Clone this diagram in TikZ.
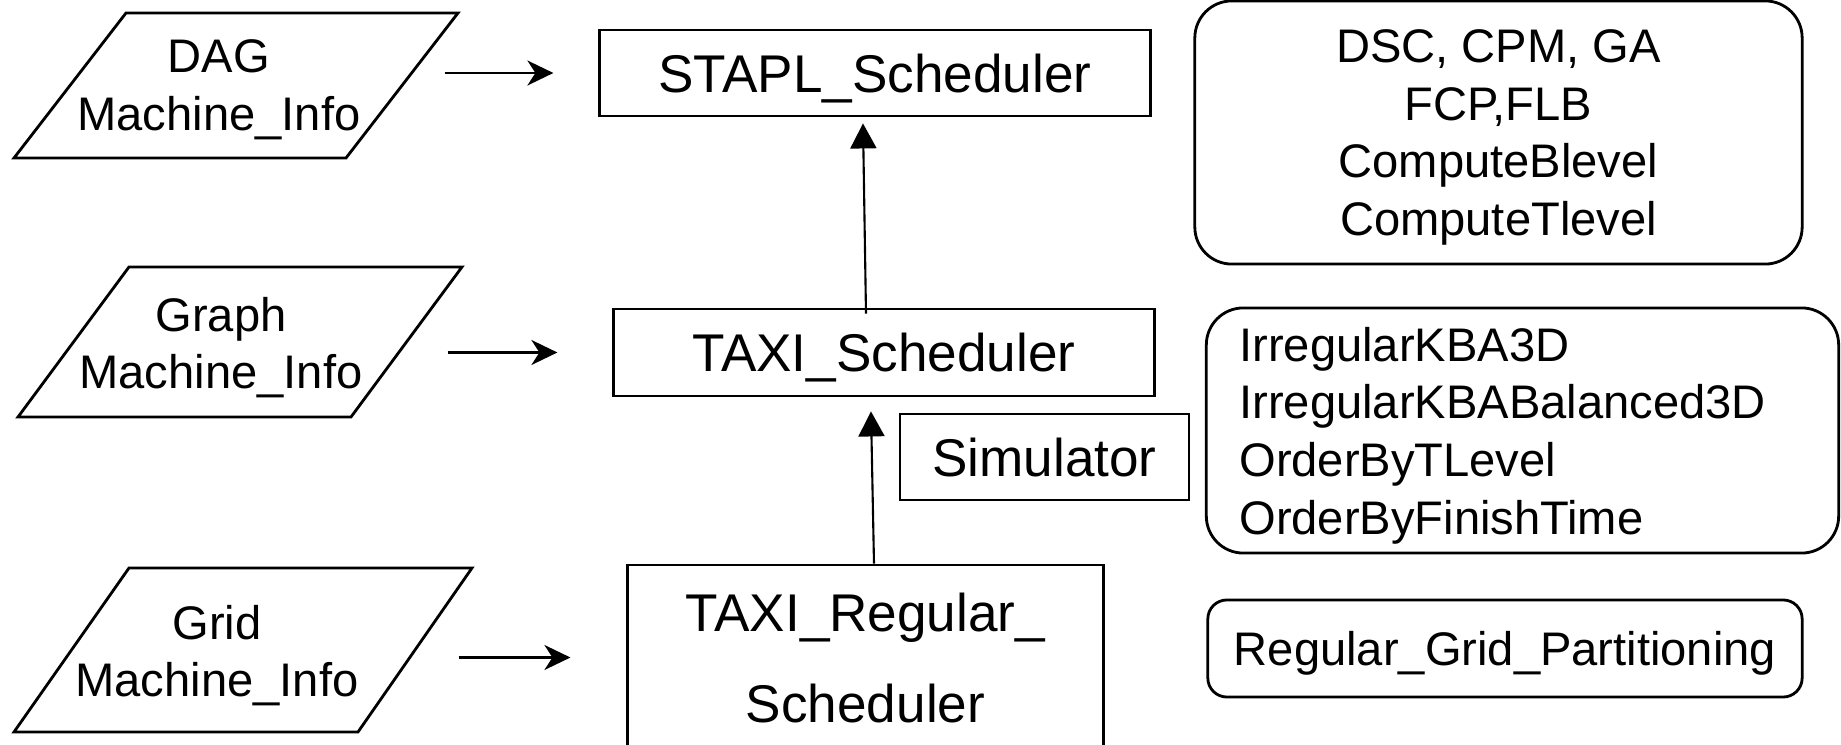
\documentclass[tikz,border=0pt]{standalone}
\usepackage{fontspec}
\setmainfont{Liberation Sans}
\usetikzlibrary{arrows.meta,calc}
\begin{document}
\begin{tikzpicture}[x=0.01cm, y=0.01cm,
    small/.style={font=\fontsize{13.4}{16.4}\selectfont, text depth=0pt},
    large/.style={font=\fontsize{15.1}{26}\selectfont, text depth=0pt},
    dataio/.style={draw, line width=0.8pt},
    datatext/.style={inner sep=0pt, align=center, small},
    schedbox/.style={draw, line width=0.8pt, rectangle, inner sep=0pt, align=center, large},
    algbox/.style={draw, line width=0.8pt, rectangle, rounded corners=0.37cm, inner sep=0pt, small},
    inarrow/.style={-{Stealth[length=0.26cm, width=0.25cm, inset=0.08cm]}, line width=0.6pt},
    uparrow/.style={-{Triangle[length=0.25cm, width=0.26cm]}, line width=0.6pt}]
    \useasboundingbox (0,0) rectangle (1841,745);
    % Input data (parallelograms)
    \draw[dataio] (126,732) -- (458,732) -- (346,587) -- (14,587) -- cycle;
    \draw[dataio] (129,478) -- (462,478) -- (351,328) -- (18,328) -- cycle;
    \draw[dataio] (129,177) -- (472,177) -- (358,13) -- (14,13) -- cycle;
    \node[datatext] (dag) at (219,660) {DAG\\Machine\_Info};
    \node[datatext] (graph) at (221,402) {Graph\\Machine\_Info};
    \node[datatext] (grid) at (217,94) {Grid\\Machine\_Info};
    % Schedulers
    \node[schedbox, minimum width=5.50cm, minimum height=0.86cm] (stapl) at (875,672) {STAPL\_Scheduler};
    \node[schedbox, minimum width=5.40cm, minimum height=0.87cm] (taxi) at (884,392.5) {TAXI\_Scheduler};
    \node[schedbox, minimum width=2.89cm, minimum height=0.86cm] (sim) at (1044.5,288) {Simulator};
    \node[schedbox, minimum width=4.75cm, minimum height=1.85cm] (regular) at (865.5,87.5) {TAXI\_Regular\_\\Scheduler};
    % Algorithms (rounded boxes)
    \node[algbox, align=center, minimum width=6.07cm, minimum height=2.63cm] (staplalg) at (1498.5,612.5)
        {DSC, CPM, GA\\FCP,FLB\\ComputeBlevel\\ComputeTlevel};
    \node[algbox, align=left, text width=5.66cm, text depth=49.2pt, inner xsep=0.33cm, minimum height=2.45cm] (taxialg) at (1522.5,314.5)
        {IrregularKBA3D\\IrregularKBABalanced3D\\OrderByTLevel\\OrderByFinishTime};
    \node[algbox, rounded corners=0.19cm, minimum width=5.94cm, minimum height=0.97cm] (regalg) at (1505,96.5)
        {Regular\_Grid\_Partitioning};
    % Arrows
    \draw[inarrow, shorten <=0.835cm, shorten >=0.45cm] (dag.east |- stapl.west) -- (stapl.west);
    \draw[inarrow, shorten <=0.845cm, shorten >=0.55cm] (graph.east |- taxi.west) -- (taxi.west);
    \draw[inarrow, shorten <=0.995cm, shorten >=0.56cm] (grid.east |- regular.west) -- (regular.west);
    \draw[uparrow] ($(taxi.north)+(-18,-6)$) -- ($(stapl.south)+(-12,-6)$);
    \draw[uparrow] ($(regular.north)+(8.5,0)$) -- ($(taxi.south)+(-13,-14)$);
\end{tikzpicture}
\end{document}
